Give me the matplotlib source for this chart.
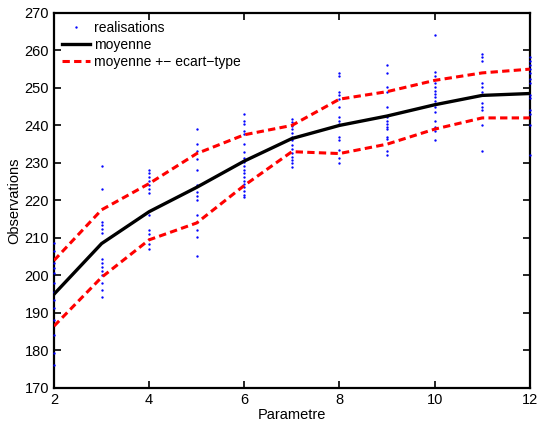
import matplotlib
matplotlib.use("Agg")
import matplotlib.pyplot as plt

plt.rcParams['font.family'] = ['Liberation Sans', 'DejaVu Sans']

params = [2, 3, 4, 5, 6, 7, 8, 9, 10, 11, 12]

obs_2 = [208.6, 206.5, 203.4, 201.9, 200.6, 197.9, 195.7, 193.5, 191.3, 188.1, 184.1, 179.3, 176.1]
obs_3 = [229.2, 223.1, 214.3, 213.4, 212.3, 211.3, 204.3, 203.3, 202.3, 201.3, 200.1, 198.1, 196.1, 194.2]
obs_4 = [228.1, 227.3, 226.2, 225.1, 224.1, 223.0, 222.1, 216.1, 212.1, 211.0, 209.7, 208.4, 207.1]
obs_5 = [239.1, 235.1, 233.1, 231.1, 228.1, 224.1, 222.2, 221.2, 220.1, 216.1, 214.2, 212.1, 210.2, 205.2]
obs_6 = [243.1, 241.3, 240.4, 238.6, 237.7, 235.1, 233.0, 231.2, 230.3, 229.2, 228.1, 227.3,
         226.3, 225.3, 224.4, 223.5, 222.5, 221.5, 221.0]
obs_7 = [241.7, 240.8, 239.9, 239.0, 237.9, 236.9, 236.0, 234.8, 233.8, 232.7, 231.7, 230.8, 229.9, 229.0]
obs_8 = [254.1, 253.2, 249.0, 248.1, 247.0, 245.0, 242.2, 241.3, 240.4, 237.0, 236.1, 233.5, 231.3, 230.1]
obs_9 = [256.1, 254.1, 250.2, 249.0, 245.0, 242.2, 241.3, 240.4, 239.7, 239.0, 236.9, 236.3, 233.2, 232.1]
obs_10 = [264.2, 254.3, 253.2, 251.2, 250.2, 249.3, 248.4, 247.5, 246.6, 245.7, 245.0, 243.7,
          241.3, 239.7, 238.4, 236.1]
obs_11 = [259.1, 258.2, 257.1, 251.3, 250.2, 249.0, 246.1, 245.0, 244.1, 240.1, 233.2]
obs_12 = [258.2, 257.3, 256.1, 255.0, 254.1, 252.3, 251.3, 248.1, 247.3, 244.0, 243.1, 240.1, 232.1]

observations = [obs_2, obs_3, obs_4, obs_5, obs_6, obs_7, obs_8, obs_9, obs_10, obs_11, obs_12]

mean_vals = [195.0, 208.5, 217.0, 223.5, 230.5, 236.5, 240.0, 242.5, 245.5, 248.0, 248.5]
upper_vals = [204.0, 217.5, 224.5, 232.5, 237.5, 240.0, 247.0, 249.0, 252.0, 254.0, 255.0]
lower_vals = [186.5, 199.5, 209.5, 214.0, 224.0, 233.0, 232.5, 235.0, 239.0, 242.0, 242.0]

fig = plt.figure(figsize=(5.4, 4.21), dpi=100)
ax = fig.add_axes([0.1, 0.0784, 0.881, 0.891])

xs, ys = [], []
for p, vals in zip(params, observations):
    xs.extend([p] * len(vals))
    ys.extend(vals)
ax.plot(xs, ys, linestyle='none', marker='.', markersize=1.4, color='#0000ff',
        label='realisations', clip_on=False, zorder=3)
ax.plot(params, mean_vals, color='black', linewidth=2.4, label='moyenne', zorder=4)
ax.plot(params, upper_vals, color='#ff0000', linewidth=2.2, linestyle=(0, (2.4, 1.4)),
        label='moyenne +\u2212 ecart\u2212type', zorder=4)
ax.plot(params, lower_vals, color='#ff0000', linewidth=2.2, linestyle=(0, (2.4, 1.4)), zorder=4)

ax.set_xlim(2, 12)
ax.set_ylim(170, 270)
ax.set_xticks(range(2, 13, 2))
ax.set_yticks(range(170, 271, 10))
ax.tick_params(direction='in', top=True, right=True, length=5, width=1.2, labelsize=10.5)
for s in ax.spines.values():
    s.set_linewidth(1.6)
ax.set_xlabel('Parametre', fontsize=10.5, labelpad=1)
ax.set_ylabel('Observations', fontsize=10.5, labelpad=2)

leg = ax.legend(loc='upper left', frameon=False, fontsize=10, handlelength=2.0,
                handletextpad=0.3, labelspacing=0.2, borderaxespad=0.2, markerscale=1.0)

fig.savefig('out.png', dpi=100)
